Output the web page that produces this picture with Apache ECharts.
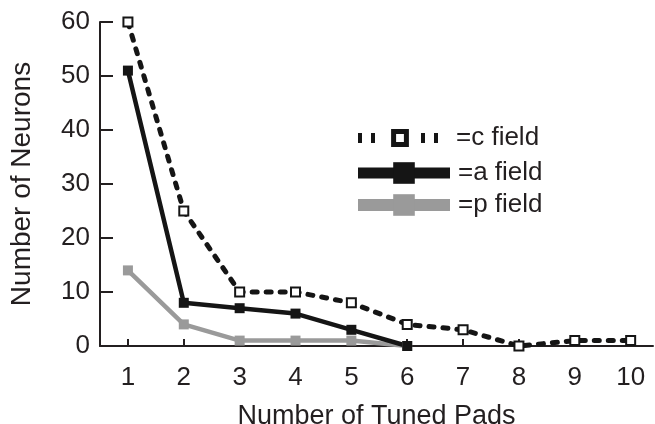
<!DOCTYPE html>
<html>
<head>
<meta charset="utf-8">
<script src="https://cdn.jsdelivr.net/npm/echarts@6/dist/echarts.min.js"></script>
<style>
html,body{margin:0;padding:0;background:#fff;}
#chart{width:655px;height:424px;}
</style>
</head>
<body>
<div id="chart"></div>
<script>
// ---- data ----
var pads = [1, 2, 3, 4, 5, 6, 7, 8, 9, 10];
var yTicks = [0, 10, 20, 30, 40, 50, 60];
var cField = [60, 25, 10, 10, 8, 4, 3, 0, 1, 1];
var aField = [51, 8, 7, 6, 3, 0];
var pField = [14, 4, 1, 1, 1, 0];
var seriesNames = ['c field', 'a field', 'p field'];

function pairs(vals) {
  return vals.map(function (v, i) { return [pads[i], v]; });
}

var TXT = '#231f20';
var FONT = 'Liberation Sans';
var GRAY = '#9a9a9a';

var chart = echarts.init(document.getElementById('chart'), null, {renderer: 'canvas'});
chart.setOption({
  animation: false,
  backgroundColor: '#fff',
  textStyle: {fontFamily: FONT, color: TXT},
  grid: {left: 100, right: 2, top: 22, bottom: 78, containLabel: false, outerBoundsMode: 'none'},
  xAxis: {
    type: 'value',
    min: 0.5,
    max: 10.4,
    name: 'Number of Tuned Pads',
    nameLocation: 'middle',
    nameGap: 57,
    nameTextStyle: {fontSize: 27, color: TXT, fontFamily: FONT},
    axisLine: {show: true, lineStyle: {color: TXT, width: 2}},
    axisTick: {show: true, inside: true, length: 7, lineStyle: {color: TXT, width: 2}, customValues: pads},
    axisLabel: {show: true, fontSize: 26, color: TXT, fontFamily: FONT, margin: 19, customValues: pads},
    splitLine: {show: false}
  },
  yAxis: {
    type: 'value',
    min: 0,
    max: 60,
    interval: 10,
    name: 'Number of Neurons',
    nameLocation: 'middle',
    nameGap: 64,
    nameTextStyle: {fontSize: 28, color: TXT, fontFamily: FONT},
    axisLine: {show: true, lineStyle: {color: TXT, width: 2}},
    axisTick: {show: true, inside: true, length: 13, lineStyle: {color: TXT, width: 2}},
    axisLabel: {show: true, fontSize: 26, color: TXT, fontFamily: FONT, margin: 10, customValues: yTicks},
    splitLine: {show: false}
  },
  legend: [
    {
      orient: 'vertical',
      left: 353,
      top: 125,
      padding: 0,
      itemWidth: 84,
      itemHeight: 16,
      selectedMode: false,
      formatter: '={name}',
      textStyle: {fontSize: 26, color: TXT, fontFamily: FONT, padding: [0, 0, 0, 9]},
      data: [{
        name: seriesNames[0],
        lineStyle: {width: 10, type: [4, 9, 4, 46, 4, 9, 4, 30], cap: 'butt'},
        itemStyle: {borderWidth: 5}
      }]
    },
    {
      orient: 'vertical',
      left: 352,
      top: 160,
      padding: 0,
      itemWidth: 92,
      itemHeight: 27,
      itemGap: 6,
      selectedMode: false,
      formatter: '={name}',
      textStyle: {fontSize: 26, color: TXT, fontFamily: FONT, padding: [0, 0, 0, 3]},
      data: [
        {name: seriesNames[1], lineStyle: {width: 11, cap: 'butt'}},
        {name: seriesNames[2], lineStyle: {width: 12, cap: 'butt'}}
      ]
    }
  ],
  series: [
    {
      name: seriesNames[2],
      type: 'line',
      data: pairs(pField),
      symbol: 'rect',
      symbolSize: 10,
      itemStyle: {color: GRAY},
      lineStyle: {color: GRAY, width: 4.5},
      clip: false
    },
    {
      name: seriesNames[1],
      type: 'line',
      data: pairs(aField),
      symbol: 'rect',
      symbolSize: 10,
      itemStyle: {color: '#151515'},
      lineStyle: {color: '#151515', width: 4.5},
      clip: false
    },
    {
      name: seriesNames[0],
      type: 'line',
      data: pairs(cField),
      symbol: 'rect',
      symbolSize: 9,
      itemStyle: {color: '#fff', borderColor: '#151515', borderWidth: 2},
      lineStyle: {color: '#151515', width: 5, type: [5, 9], cap: 'round'},
      clip: false
    }
  ]
});
</script>
</body>
</html>
